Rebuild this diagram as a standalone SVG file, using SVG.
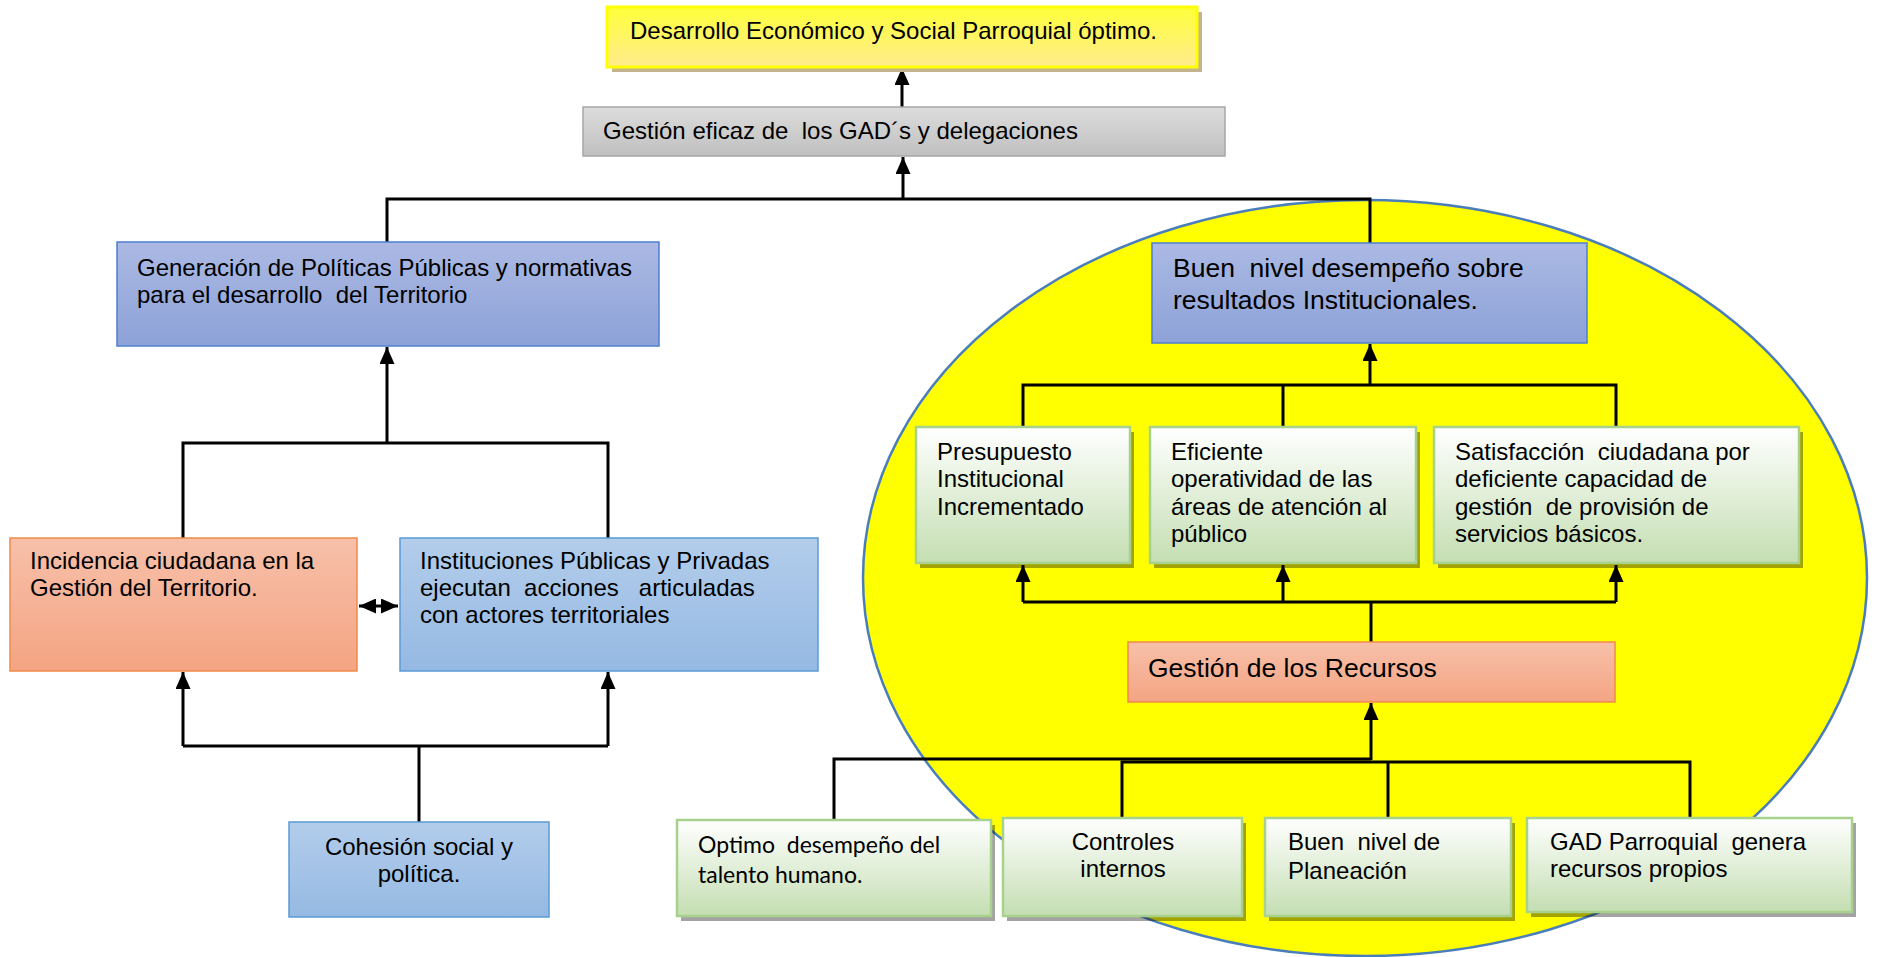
<svg xmlns="http://www.w3.org/2000/svg" width="1879" height="957" viewBox="0 0 1879 957" xml:space="preserve">
<defs>
<linearGradient id="gYellow" x1="0" y1="0" x2="0" y2="1"><stop offset="0" stop-color="#ffff3a"/><stop offset="1" stop-color="#ffec8e"/></linearGradient>
<linearGradient id="gGray" x1="0" y1="0" x2="0" y2="1"><stop offset="0" stop-color="#dcdcdc"/><stop offset="1" stop-color="#c0c0c0"/></linearGradient>
<linearGradient id="gPurple" x1="0" y1="0" x2="0" y2="1"><stop offset="0" stop-color="#abb9e3"/><stop offset="1" stop-color="#8da2d8"/></linearGradient>
<linearGradient id="gBlue" x1="0" y1="0" x2="0" y2="1"><stop offset="0" stop-color="#b3cdeb"/><stop offset="1" stop-color="#95b9e3"/></linearGradient>
<linearGradient id="gOrange" x1="0" y1="0" x2="0" y2="1"><stop offset="0" stop-color="#f7c0aa"/><stop offset="1" stop-color="#f4a482"/></linearGradient>
<linearGradient id="gGreen" x1="0" y1="0" x2="0" y2="1"><stop offset="0" stop-color="#ffffff"/><stop offset="1" stop-color="#c4deb2"/></linearGradient>
<marker id="arr" markerUnits="userSpaceOnUse" markerWidth="19" markerHeight="16" refX="17" refY="7.5" orient="auto">
<path d="M0,0 L17,7.5 L0,15 z" fill="#000"/>
</marker>
<marker id="arrS" markerUnits="userSpaceOnUse" markerWidth="19" markerHeight="16" refX="0" refY="7.5" orient="auto">
<path d="M17,0 L0,7.5 L17,15 z" fill="#000"/>
</marker>
</defs>
<style>
text{white-space:pre;}
.t{font-family:"Liberation Sans",Arial,sans-serif;font-size:24px;fill:#000;}
.tl{font-family:Lato,"Liberation Sans",sans-serif;font-size:23px;fill:#000;}
.big{font-size:26.5px;}
.c{text-anchor:middle;}
.yellow{fill:url(#gYellow);stroke:#ffff00;stroke-width:3;}
.gray{fill:url(#gGray);stroke:#a6a6a6;stroke-width:1.5;}
.purple{fill:url(#gPurple);stroke:#4f7fd0;stroke-width:1.5;}
.blue{fill:url(#gBlue);stroke:#5b9bd5;stroke-width:1.5;}
.orange{fill:url(#gOrange);stroke:#f08a4b;stroke-width:1.5;}
.green{fill:url(#gGreen);stroke:#a9d18e;stroke-width:2.5;}
.sh{fill:#000;fill-opacity:0.36;}
.ln{fill:none;stroke:#000;stroke-width:3;}
.ar{marker-end:url(#arr);}
</style>
<rect width="1879" height="957" fill="#fff"/>
<ellipse id="oval" cx="1365" cy="578" rx="502" ry="378" fill="#ffff00" stroke="#4a7ebb" stroke-width="2.5"/>

<g id="connectors">
<path class="ln ar" d="M902,107 V68"/>
<path class="ln" d="M387,242 V199 H1370 V243"/>
<path class="ln ar" d="M903,199 V157"/>
<path class="ln ar" d="M387,443 V347"/>
<path class="ln" d="M183,538 V443 H608 V538"/>
<path class="ln" d="M183,746 H608 M419,822 V746"/>
<path class="ln ar" d="M183,746 V672"/>
<path class="ln ar" d="M608,746 V672"/>
<path class="ln" d="M359,606 H398" marker-start="url(#arrS)" marker-end="url(#arr)"/>
<path class="ln ar" d="M1370,385 V344"/>
<path class="ln" d="M1023,427 V385 H1616 V427 M1283,385 V427"/>
<path class="ln" d="M1371,642 V602 M1023,602 H1616"/>
<path class="ln ar" d="M1023,602 V565"/>
<path class="ln ar" d="M1283,602 V565"/>
<path class="ln ar" d="M1616,602 V565"/>
<path class="ln ar" d="M1371,760 V703"/>
<path class="ln" d="M834,820 V759 H1371"/>
<path class="ln" d="M1122,818 V762 H1690 V818 M1388,762 V818"/>
</g>

<g id="n-desarrollo">
<rect x="612" y="12" width="590" height="60" fill="#c4b48c"/>
<rect class="yellow" x="607" y="7" width="590" height="60"/>
<text class="t" x="630" y="39">Desarrollo Económico y Social Parroquial óptimo.</text>
</g>
<g id="n-gestion-eficaz">
<rect class="gray" x="583" y="107" width="642" height="49"/>
<text class="t" x="603" y="139">Gestión eficaz de  los GAD´s y delegaciones</text>
</g>
<g id="n-generacion">
<rect class="purple" x="117" y="242" width="542" height="104"/>
<text class="t" x="137" y="276">Generación de Políticas Públicas y normativas</text>
<text class="t" x="137" y="303">para el desarrollo  del Territorio</text>
</g>
<g id="n-buen-nivel-desempeno">
<rect class="purple" x="1152" y="243" width="435" height="100"/>
<text class="t big" x="1173" y="277">Buen  nivel desempeño sobre</text>
<text class="t big" x="1173" y="309">resultados Institucionales.</text>
</g>
<g id="n-incidencia">
<rect class="orange" x="10" y="538" width="347" height="133"/>
<text class="t" x="30" y="569">Incidencia ciudadana en la</text>
<text class="t" x="30" y="596">Gestión del Territorio.</text>
</g>
<g id="n-instituciones">
<rect class="blue" x="400" y="538" width="418" height="133"/>
<text class="t" x="420" y="569">Instituciones Públicas y Privadas</text>
<text class="t" x="420" y="596">ejecutan  acciones   articuladas</text>
<text class="t" x="420" y="623">con actores territoriales</text>
</g>
<g id="n-cohesion">
<rect class="blue" x="289" y="822" width="260" height="95"/>
<text class="t c" x="419" y="855">Cohesión social y</text>
<text class="t c" x="419" y="882">política.</text>
</g>
<g id="n-presupuesto">
<rect class="sh" x="920" y="432" width="214" height="136"/>
<rect class="green" x="916" y="427" width="214" height="136"/>
<text class="t" x="937" y="460">Presupuesto</text>
<text class="t" x="937" y="487">Institucional</text>
<text class="t" x="937" y="515">Incrementado</text>
</g>
<g id="n-eficiente">
<rect class="sh" x="1154" y="432" width="266" height="136"/>
<rect class="green" x="1150" y="427" width="266" height="136"/>
<text class="t" x="1171" y="460">Eficiente</text>
<text class="t" x="1171" y="487">operatividad de las</text>
<text class="t" x="1171" y="515">áreas de atención al</text>
<text class="t" x="1171" y="542">público</text>
</g>
<g id="n-satisfaccion">
<rect class="sh" x="1438" y="432" width="365" height="136"/>
<rect class="green" x="1434" y="427" width="365" height="136"/>
<text class="t" x="1455" y="460">Satisfacción  ciudadana por</text>
<text class="t" x="1455" y="487">deficiente capacidad de</text>
<text class="t" x="1455" y="515">gestión  de provisión de</text>
<text class="t" x="1455" y="542">servicios básicos.</text>
</g>
<g id="n-gestion-recursos">
<rect class="orange" x="1128" y="642" width="487" height="60"/>
<text class="t big" x="1148" y="677">Gestión de los Recursos</text>
</g>
<g id="n-optimo">
<rect class="sh" x="681" y="825" width="314" height="96"/>
<rect class="green" x="677" y="820" width="314" height="96"/>
<text class="tl" x="698" y="853">Optimo  desempeño del</text>
<text class="tl" x="698" y="883">talento humano.</text>
</g>
<g id="n-controles">
<rect class="sh" x="1007" y="823" width="239" height="98"/>
<rect class="green" x="1003" y="818" width="239" height="98"/>
<text class="t c" x="1123" y="850">Controles</text>
<text class="t c" x="1123" y="877">internos</text>
</g>
<g id="n-planeacion">
<rect class="sh" x="1269" y="823" width="246" height="98"/>
<rect class="green" x="1265" y="818" width="246" height="98"/>
<text class="t" x="1288" y="850">Buen  nivel de</text>
<text class="t" x="1288" y="879">Planeación</text>
</g>
<g id="n-gad">
<rect class="sh" x="1531" y="823" width="325" height="94"/>
<rect class="green" x="1527" y="818" width="325" height="94"/>
<text class="t" x="1550" y="850">GAD Parroquial  genera</text>
<text class="t" x="1550" y="877">recursos propios</text>
</g>
</svg>
